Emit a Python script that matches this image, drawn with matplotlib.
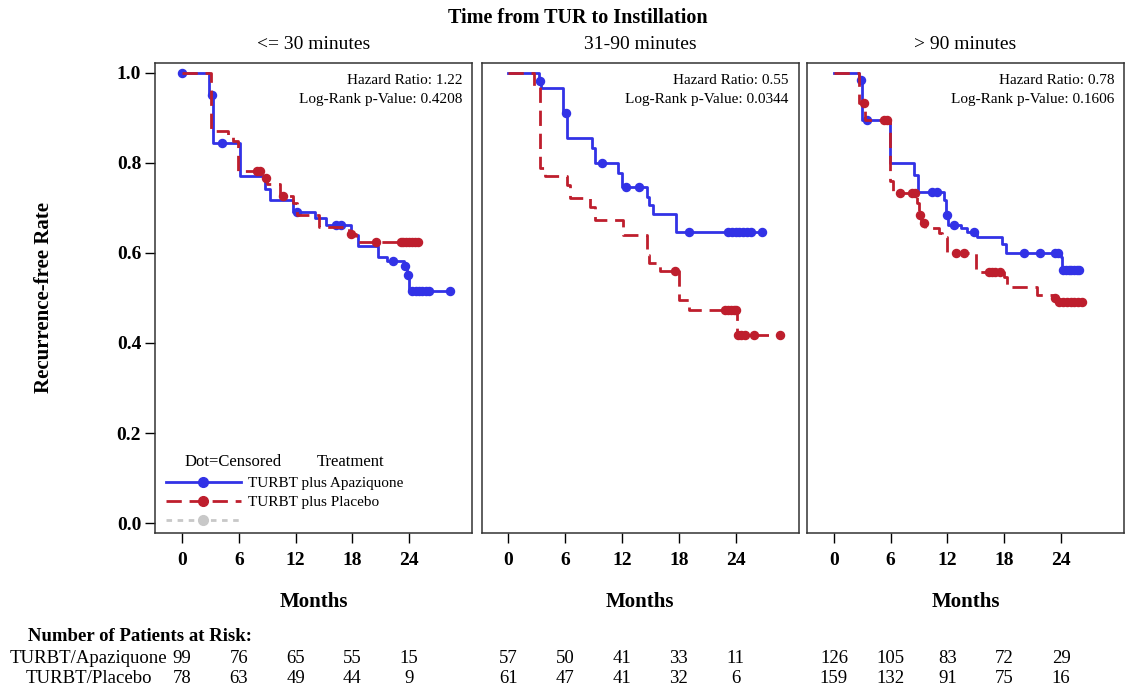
import numpy as np
import matplotlib
matplotlib.use("Agg")
import matplotlib.pyplot as plt
from matplotlib.lines import Line2D
from matplotlib import transforms

plt.rcParams['font.family'] = ['Liberation Serif', 'DejaVu Serif']

# ---- data (months, recurrence-free rate) ----
panel_titles = ["<= 30 minutes", "31-90 minutes", "> 90 minutes"]
hazard_ratio = ["1.22", "0.55", "0.78"]
logrank_p = ["0.4208", "0.0344", "0.1606"]

# <= 30 minutes
p1_apz_t = [0, 2.9, 3.3, 6.1, 8.8, 9.35, 11.7, 14.1, 15.2, 17.9, 18.6, 20.7, 21.7, 23.5, 23.8, 24.0, 28.3]
p1_apz_s = [1.0, 0.950, 0.844, 0.770, 0.742, 0.718, 0.692, 0.678, 0.662, 0.640, 0.615, 0.592, 0.582, 0.571, 0.551, 0.515, 0.515]
p1_apz_c = [0, 3.2, 4.2, 12.2, 16.3, 16.8, 22.3, 23.6, 23.9, 24.3, 24.7, 25.0, 25.4, 25.8, 26.1, 28.3]
p1_pbo_t = [0, 3.1, 4.9, 5.4, 5.95, 8.8, 9.0, 10.4, 11.7, 12.2, 14.5, 17.7, 18.4, 24.9]
p1_pbo_s = [1.0, 0.872, 0.860, 0.849, 0.781, 0.766, 0.753, 0.727, 0.710, 0.684, 0.658, 0.642, 0.625, 0.625]
p1_pbo_c = [7.9, 8.2, 8.9, 10.7, 17.9, 20.5, 23.1, 23.4, 23.7, 24.0, 24.3, 24.6, 24.9]

# 31-90 minutes
p2_apz_t = [0, 3.27, 3.4, 5.8, 6.2, 8.8, 9.1, 11.6, 11.95, 14.6, 14.9, 15.3, 17.7, 26.8]
p2_apz_s = [1.0, 0.981, 0.967, 0.911, 0.855, 0.833, 0.800, 0.777, 0.746, 0.725, 0.707, 0.687, 0.647, 0.647]
p2_apz_c = [3.3, 6.1, 9.9, 12.4, 13.8, 19.1, 23.2, 23.6, 24.0, 24.4, 24.8, 25.2, 25.6, 26.8]
p2_pbo_t = [0, 2.7, 3.3, 3.9, 6.2, 6.5, 8.6, 9.1, 12.1, 14.6, 14.8, 16.0, 18.0, 19.1, 24.1, 28.7]
p2_pbo_s = [1.0, 0.97, 0.788, 0.770, 0.751, 0.722, 0.703, 0.673, 0.640, 0.595, 0.577, 0.560, 0.495, 0.474, 0.417, 0.417]
p2_pbo_c = [17.6, 22.9, 23.2, 23.5, 23.8, 24.0, 24.3, 24.6, 25.0, 25.9, 28.7]

# > 90 minutes
p3_apz_t = [0, 2.6, 3.0, 5.9, 8.45, 8.9, 11.6, 11.85, 12.1, 13.4, 14.1, 15.1, 17.8, 18.2, 24.0, 24.1, 25.9]
p3_apz_s = [1.0, 0.985, 0.896, 0.800, 0.774, 0.736, 0.718, 0.684, 0.662, 0.655, 0.647, 0.636, 0.621, 0.600, 0.590, 0.562, 0.562]
p3_apz_c = [2.9, 3.5, 10.4, 10.9, 11.9, 12.7, 14.8, 20.1, 21.8, 23.4, 23.7, 24.2, 24.5, 24.8, 25.1, 25.4, 25.7, 25.9]
p3_pbo_t = [0, 2.6, 3.3, 5.9, 6.2, 8.8, 9.0, 9.2, 9.6, 11.1, 11.4, 12.0, 15.0, 17.95, 18.3, 21.5, 23.1, 23.6, 26.2]
p3_pbo_s = [1.0, 0.933, 0.895, 0.759, 0.733, 0.710, 0.684, 0.666, 0.655, 0.645, 0.636, 0.599, 0.558, 0.547, 0.525, 0.506, 0.499, 0.491, 0.491]
p3_pbo_c = [3.2, 5.3, 5.6, 7.0, 8.3, 8.6, 9.1, 9.5, 12.9, 13.7, 16.4, 16.7, 17.0, 17.5, 23.4, 23.8, 24.2, 24.6, 25.0, 25.4, 25.8, 26.2]

# patients at risk at months 0, 6, 12, 18, 24
risk_months = [0, 6, 12, 18, 24]
risk_apz = [[99, 76, 65, 55, 15], [57, 50, 41, 33, 11], [126, 105, 83, 72, 29]]
risk_pbo = [[78, 63, 49, 44, 9], [61, 47, 41, 32, 6], [159, 132, 91, 75, 16]]

curves = [
    (p1_apz_t, p1_apz_s, p1_apz_c, p1_pbo_t, p1_pbo_s, p1_pbo_c),
    (p2_apz_t, p2_apz_s, p2_apz_c, p2_pbo_t, p2_pbo_s, p2_pbo_c),
    (p3_apz_t, p3_apz_s, p3_apz_c, p3_pbo_t, p3_pbo_s, p3_pbo_c),
]

BLUE = "#3232E6"
RED = "#BE1E2D"
GREY = "#C8C8C8"
LW = 2.0
DASH = (5.5, 2.8)


def step_at(t, s, x):
    idx = np.searchsorted(np.asarray(t), np.asarray(x), side="right") - 1
    return np.asarray(s)[idx]


fig = plt.figure(figsize=(11.25, 6.92), dpi=100)

lefts = [0.1378, 0.4280, 0.7173]
axes = []
for i, left in enumerate(lefts):
    ax = fig.add_axes([left, 0.2298, 0.2818, 0.6792])
    axes.append(ax)
    at, as_, ac, pt, ps, pc = curves[i]

    ax.step(at, as_, where="post", color=BLUE, lw=LW)
    ax.plot(ac, step_at(at, as_, ac), "o", color=BLUE, ms=5.8, ls="none")
    ax.step(pt, ps, where="post", color=RED, lw=LW, dashes=DASH)
    ax.plot(pc, step_at(pt, ps, pc), "o", color=RED, ms=5.8, ls="none")

    ax.set_xlim(-2.85, 30.65)
    ax.set_ylim(-0.022, 1.022)
    ax.set_xticks(risk_months)
    ax.tick_params(axis="x", direction="out", length=7, width=1, pad=7, labelsize=14)
    for lab in ax.get_xticklabels():
        lab.set_fontweight("bold")
    if i == 0:
        ax.set_yticks([0.0, 0.2, 0.4, 0.6, 0.8, 1.0])
        ax.set_yticklabels(["0.0", "0.2", "0.4", "0.6", "0.8", "1.0"], fontweight="bold")
        ax.tick_params(axis="y", direction="out", length=7, width=1, pad=3, labelsize=14)
    else:
        ax.set_yticks([])
    for sp in ax.spines.values():
        sp.set_color("#333333")
        sp.set_linewidth(1.1)

    ax.set_xlabel("Months", fontsize=15, fontweight="bold", labelpad=16)

    ax.text(0.969, 0.962, "Hazard Ratio: " + hazard_ratio[i], transform=ax.transAxes,
            ha="right", va="center", fontsize=11)
    ax.text(0.969, 0.923, "Log-Rank p-Value: " + logrank_p[i], transform=ax.transAxes,
            ha="right", va="center", fontsize=11)

    fig.text(left + 0.2818 / 2, 0.936, panel_titles[i], ha="center", va="center", fontsize=14)

    # patients at risk under this panel
    tr = transforms.blended_transform_factory(ax.transData, fig.transFigure)
    for m, a, p in zip(risk_months, risk_apz[i], risk_pbo[i]):
        ax.text(m, 0.0477, str(a), transform=tr, ha="center", va="center", fontsize=13.5)
        ax.text(m, 0.0188, str(p), transform=tr, ha="center", va="center", fontsize=13.5)

fig.text(0.514, 0.974, "Time from TUR to Instillation", ha="center", va="center",
         fontsize=14.5, fontweight="bold")
fig.text(0.039, 0.5694, "Recurrence-free Rate", rotation=90, ha="center", va="center",
         fontsize=15, fontweight="bold")

# legend in first panel
ax0 = axes[0]
ax0.text(0.094, 0.152, "Dot=Censored", transform=ax0.transAxes, ha="left", va="center", fontsize=12)
ax0.text(0.509, 0.152, "Treatment", transform=ax0.transAxes, ha="left", va="center", fontsize=12)
handles = [
    Line2D([], [], color=BLUE, lw=LW, marker="o", ms=7),
    Line2D([], [], color=RED, lw=LW, marker="o", ms=7, dashes=DASH),
    Line2D([], [], color=GREY, lw=LW, marker="o", ms=7, dashes=(2.0, 2.0)),
]
ax0.legend(handles, ["TURBT plus Apaziquone", "TURBT plus Placebo", ""],
           loc="lower left", bbox_to_anchor=(0.02, 0.0), frameon=False, fontsize=11,
           handlelength=4.9, handletextpad=0.5, labelspacing=0.35, borderpad=0.3,
           borderaxespad=0.0)

# risk table labels
fig.text(0.025, 0.0795, "Number of Patients at Risk:", ha="left", va="center",
         fontsize=13.5, fontweight="bold")
fig.text(0.079, 0.0477, "TURBT/Apaziquone", ha="center", va="center", fontsize=13.5)
fig.text(0.079, 0.0188, "TURBT/Placebo", ha="center", va="center", fontsize=13.5)

fig.savefig("out.png", dpi=100)
